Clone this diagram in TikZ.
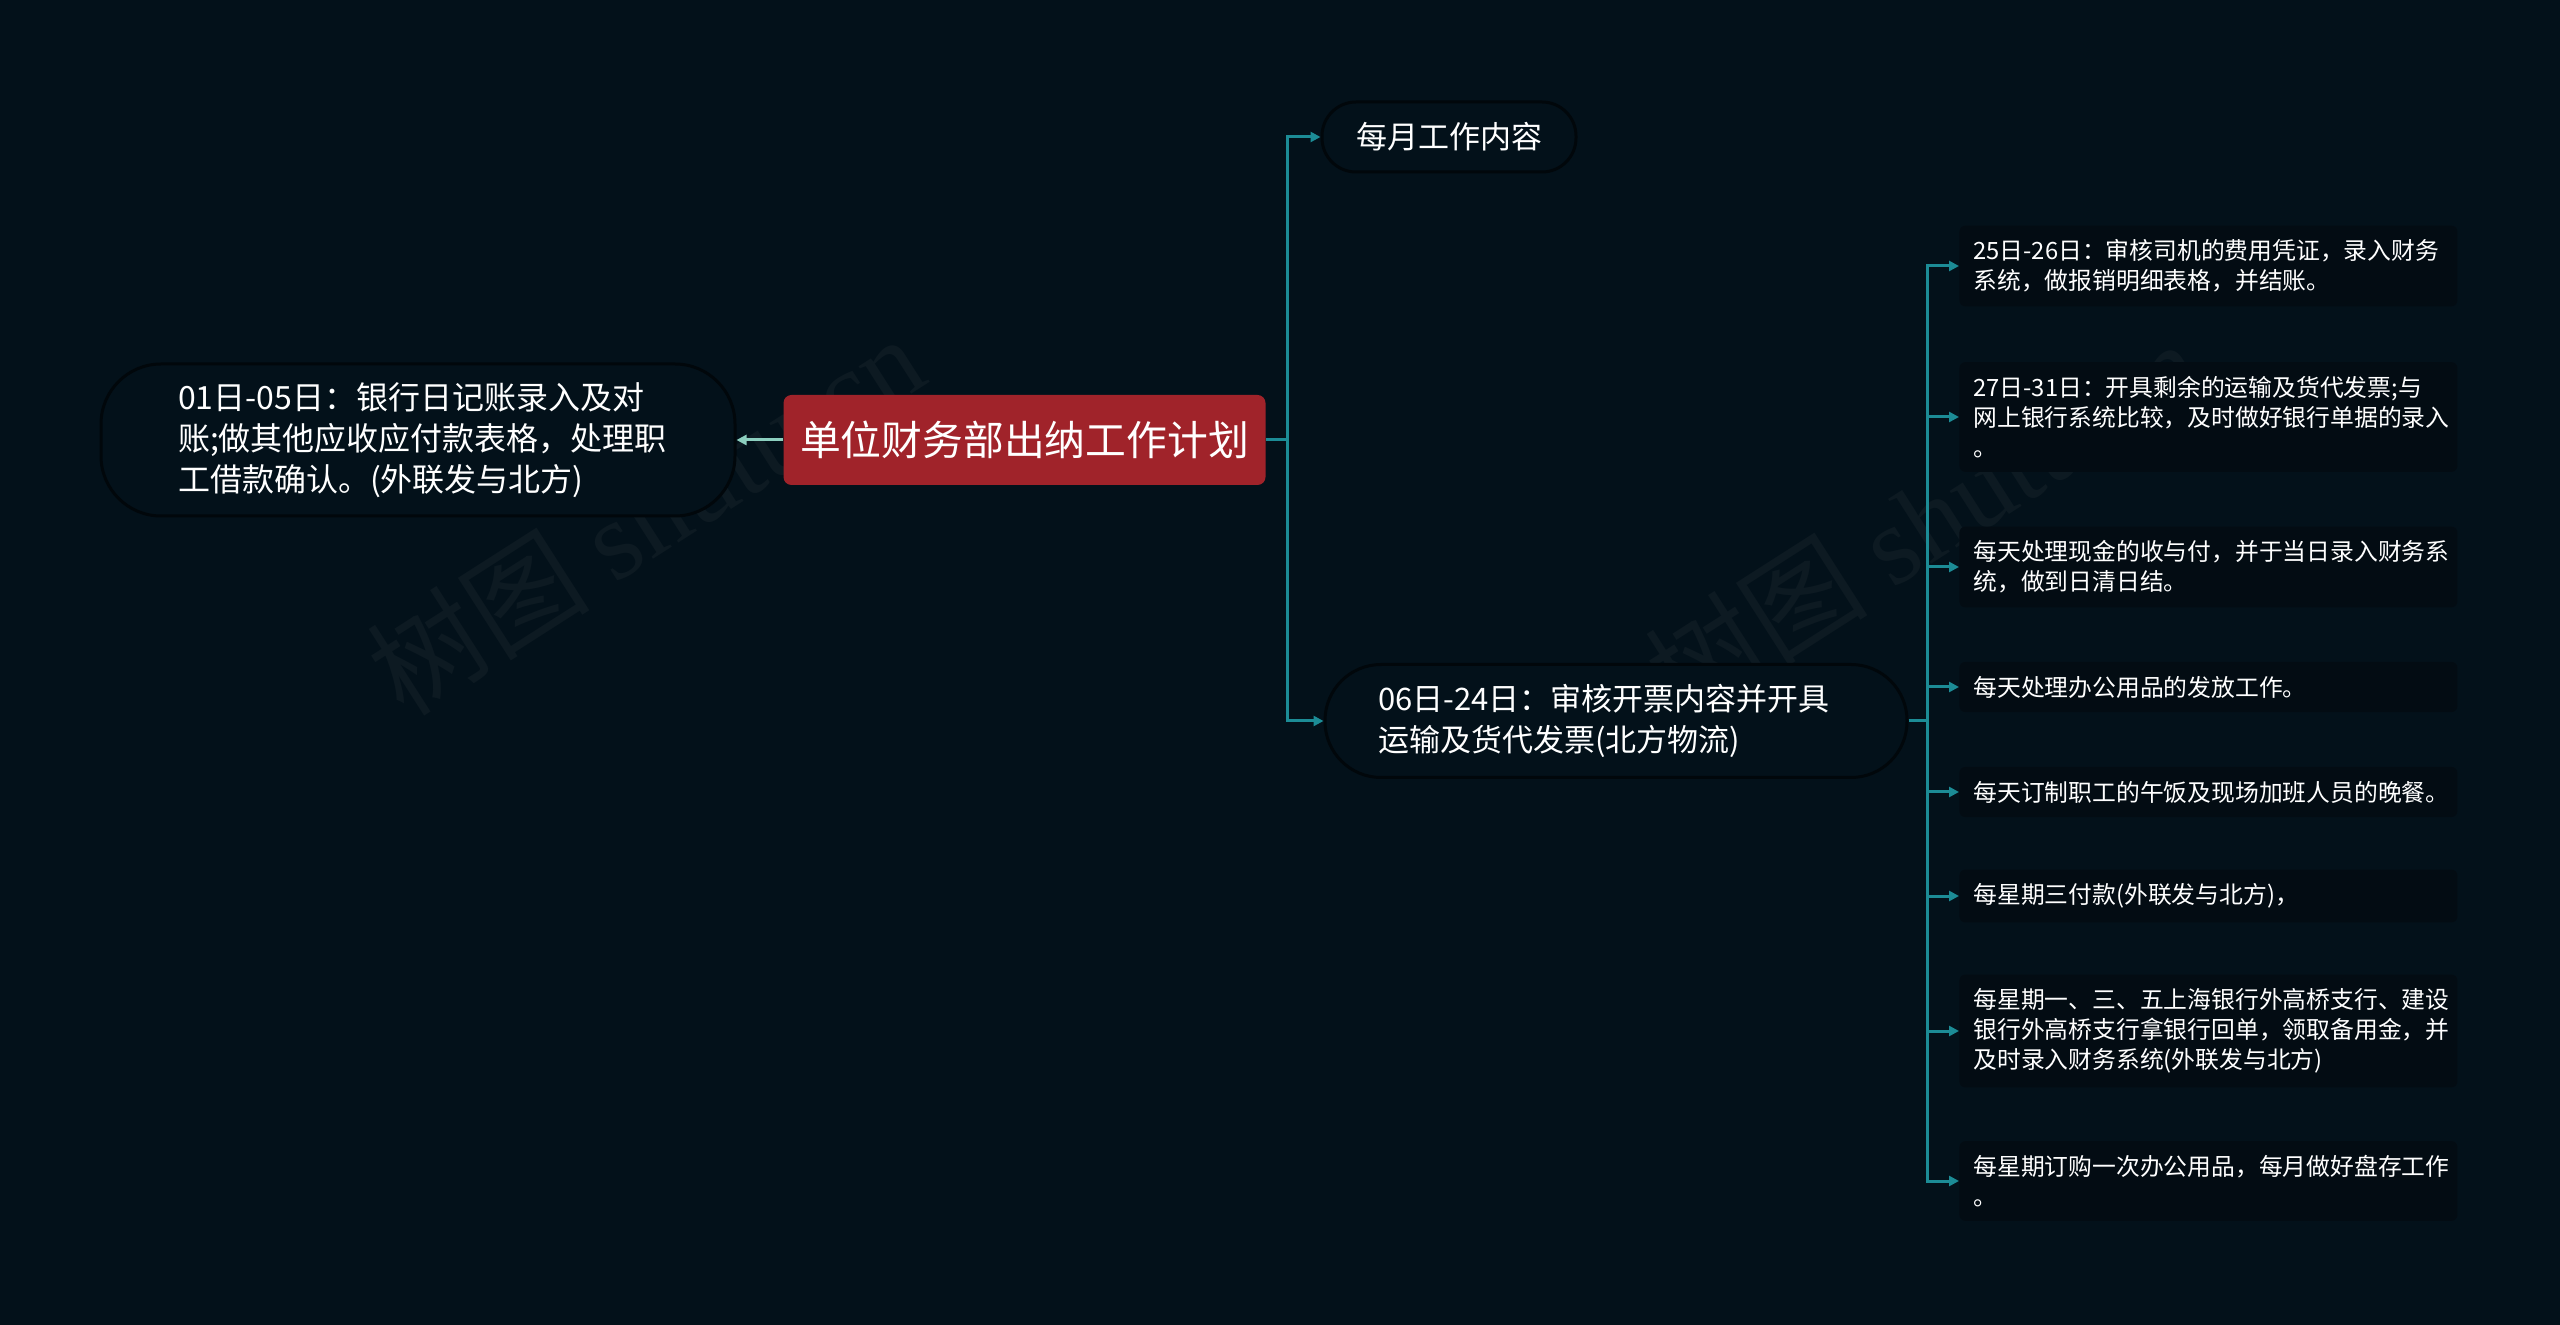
\documentclass[tikz,border=0pt]{standalone}
\usepackage{fontspec}
\setmainfont{Noto Sans CJK SC}
\newfontfamily\wmserif{Liberation Serif}
\newfontfamily\wmcjk{Noto Sans CJK SC}
\usetikzlibrary{arrows.meta}
\definecolor{bg}{HTML}{03111A}
\definecolor{rootred}{HTML}{A0232A}
\definecolor{teal}{HTML}{1C8C96}
\definecolor{mint}{HTML}{8CCFBF}
\definecolor{edge}{HTML}{01070B}
\definecolor{boxbg}{HTML}{030C13}
\definecolor{wm}{HTML}{0D1A22}
\tikzset{
  rootbox/.style={fill=rootred, rounded corners=4pt, text=white, inner sep=0pt,
    minimum width=241pt, minimum height=45pt, font=\fontsize{20.4}{24}\selectfont},
  pill/.style={draw=edge, line width=1.5pt, fill=bg, text=white, inner sep=0pt, align=left},
  leafbox/.style={anchor=west, fill=boxbg, rounded corners=3pt, text=white,
    font=\fontsize{11.9}{15}\selectfont, text width=235pt, align=left,
    inner xsep=7pt, inner ysep=7pt},
  conn/.style={draw=teal, line width=1.5pt, -{Triangle[length=5pt,width=5pt]}},
  connplain/.style={draw=teal, line width=1.5pt},
  back/.style={draw=mint, line width=1.5pt, -{Triangle[length=5pt,width=5pt]}},
  wmtext/.style={text=wm, rotate=32.6, font=\fontsize{56}{60}\selectfont}
}
\begin{document}
\begin{tikzpicture}[x=0.5pt, y=-0.5pt]
\useasboundingbox (0,0) rectangle (2560,1325);
\fill[bg] (0,0) rectangle (2560,1325);

% watermarks
\node[wmtext] (wm1) at (645,514) {\wmcjk 树图 \wmserif shutu.cn};
\node[wmtext] (wm2) at (1923,519) {\wmcjk 树图 \wmserif shutu.cn};

% root
\node[rootbox] (root) at (1024.5,440) {单位财务部出纳工作计划};

% left node
\node[pill, rounded corners=30pt, minimum width=317pt, minimum height=76pt,
  text width=240pt, font=\fontsize{16}{20.5}\selectfont] (left) at (418,440)
  {01日-05日：银行日记账录入及对\\账;做其他应收应付款表格，处理职\\工借款确认。(外联发与北方)};

% right level 1
\node[pill, rounded corners=17pt, minimum width=127pt, minimum height=35pt,
  font=\fontsize{15.5}{20}\selectfont] (m1) at (1449,137) {每月工作内容};
\node[pill, rounded corners=28pt, minimum width=291pt, minimum height=56.5pt,
  text width=238pt, font=\fontsize{15.5}{20.5}\selectfont] (m2) at (1616,721)
  {06日-24日：审核开票内容并开具\\运输及货代发票(北方物流)};

% leaves
\node[leafbox] (c1) at (1959,266) {25日-26日：审核司机的费用凭证，录入财务\\系统，做报销明细表格，并结账。};
\node[leafbox] (c2) at (1959,417) {27日-31日：开具剩余的运输及货代发票;与\\网上银行系统比较，及时做好银行单据的录入\\。};
\node[leafbox] (c3) at (1959,567) {每天处理现金的收与付，并于当日录入财务系\\统，做到日清日结。};
\node[leafbox] (c4) at (1959,687) {每天处理办公用品的发放工作。};
\node[leafbox] (c5) at (1959,792) {每天订制职工的午饭及现场加班人员的晚餐。};
\node[leafbox] (c6) at (1959,896) {每星期三付款(外联发与北方)，};
\node[leafbox] (c7) at (1959,1031) {每星期一、三、五上海银行外高桥支行、建设\\银行外高桥支行拿银行回单，领取备用金，并\\及时录入财务系统(外联发与北方)};
\node[leafbox] (c8) at (1959,1181) {每星期订购一次办公用品，每月做好盘存工作\\。};

% connectors
\coordinate (j1) at (1287,440);
\coordinate (j2) at (1927,721);
\draw[back] (root.west) -- (left.east);
\draw[connplain] (root.east) -- (j1);
\draw[conn] (j1) |- (m1.west);
\draw[conn] (j1) |- (m2.west);
\draw[connplain] (m2.east) -- (j2);
\foreach \c in {c1,c2,c3,c4,c5,c6,c7,c8}{
  \draw[conn] (j2) |- (\c.west);
}
\end{tikzpicture}
\end{document}
